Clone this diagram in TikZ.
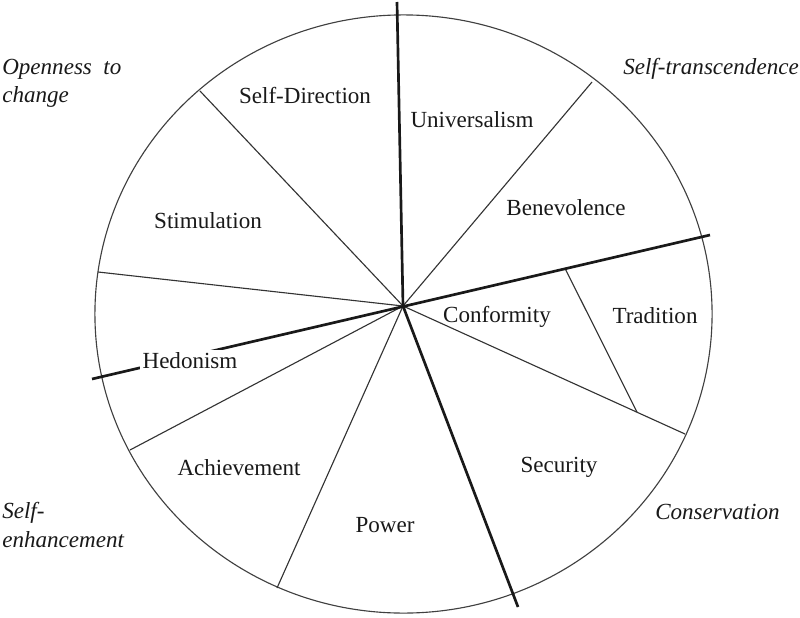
\documentclass[tikz,border=0pt]{standalone}
\usepackage{fontspec}
\setmainfont{Liberation Serif}
\usepackage{tikz}
\usetikzlibrary{calc, positioning}
\tikzset{
    spoke/.style={draw=black!80, line width=0.8pt},
    axis/.style={draw=black!90, line width=1.9pt},
    rim/.style={draw=black!75, line width=0.8pt},
    valueLabel/.style={anchor=base, inner sep=1.5pt, text=black!90, font=\fontsize{16.4}{20}\selectfont},
    groupLabel/.style={anchor=base west, align=left, inner sep=0pt, text=black!90, font=\fontsize{16.4}{20}\selectfont\itshape}
}

\begin{document}
\begin{tikzpicture}[x=0.025cm, y=-0.025cm]
    \useasboundingbox (0,0) rectangle (800,617);
    % Outer rim
    \draw[rim] (403.5,314) ellipse [x radius=7.7125cm, y radius=7.475cm];

    % Hub and spoke ends
    \coordinate (hub) at (403,306);
    \coordinate (sdStim) at (200,91);
    \coordinate (stimHedo) at (98,272);
    \coordinate (hedoAchv) at (130,450);
    \coordinate (achvPowr) at (277,588);
    \coordinate (univBene) at (592,82);
    \coordinate (confSecu) at (685,434);
    \coordinate (axisN) at (397,2);
    \coordinate (axisS) at (518,607);
    \coordinate (axisW) at (92,379);
    \coordinate (axisE) at (710,235);

    % Thin spokes
    \foreach \e in {sdStim, stimHedo, hedoAchv, achvPowr, univBene, confSecu}
        \draw[spoke] (hub) -- (\e);
    % Tradition split
    \draw[spoke] ($(hub)!0.528!(axisE)$) -- ($(hub)!0.83!(confSecu)$);

    % Main axes
    \draw[axis] (hub) -- (axisN);
    \draw[axis] (hub) -- (axisS);
    \draw[axis] (axisW) -- (axisE);

    % Values
    \node[valueLabel] (sd) at (305,104) {Self-Direction};
    \node[valueLabel] (univ) at (472,128) {Universalism};
    \node[valueLabel] (stim) at (208,228) {Stimulation};
    \node[valueLabel] (bene) at (566,215) {Benevolence};
    \node[valueLabel] (conf) at (497,322) {Conformity};
    \node[valueLabel] (trad) at (655,323) {Tradition};
    \node[valueLabel, fill=white] (hedo) at (190,368) {Hedonism};
    \node[valueLabel] (achv) at (239,475) {Achievement};
    \node[valueLabel] (secu) at (559,472) {Security};
    \node[valueLabel] (powr) at (385,532) {Power};

    % Higher-order groups (base = last line)
    \node[groupLabel] (open) at (2,103) {Openness\hspace{0.5em}to\\change};
    \node[groupLabel] (trans) at (623,75) {Self-transcendence};
    \node[groupLabel] (enh) at (2,547) {Self-\\enhancement};
    \node[groupLabel] (cons) at (655,519) {Conservation};
\end{tikzpicture}
\end{document}
